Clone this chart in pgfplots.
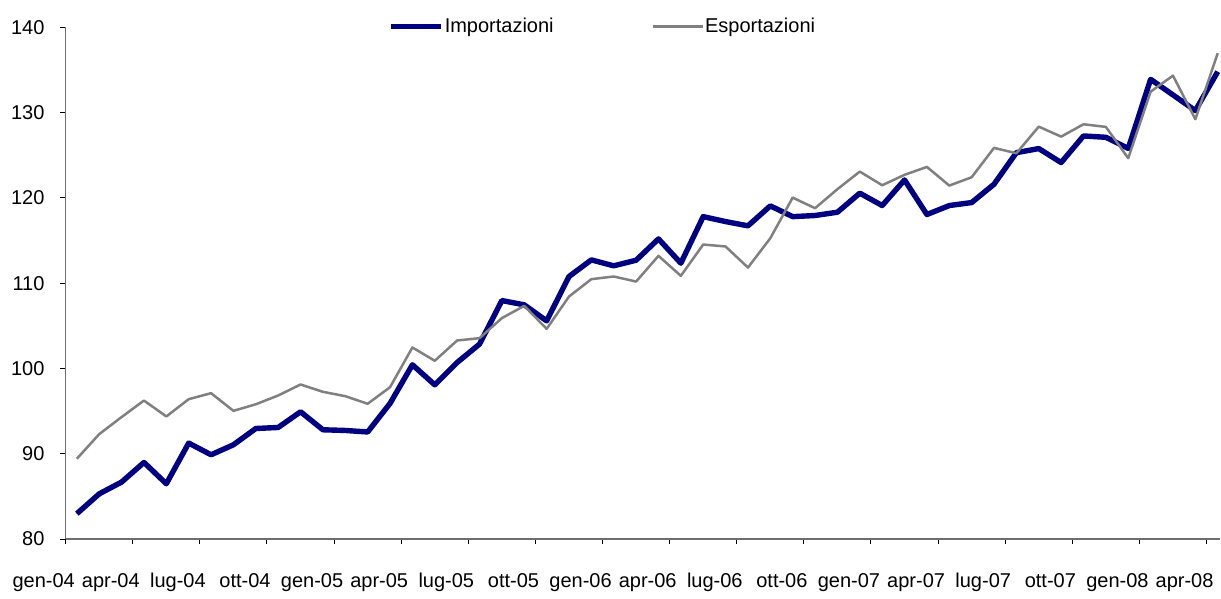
\documentclass[border=0pt]{standalone}
\usepackage{fontspec}
\setmainfont{Liberation Sans}
\usepackage{pgfplots}
\pgfplotsset{compat=1.18}
\usepackage{pgfplotstable}
\definecolor{impblue}{RGB}{0,0,128}
\definecolor{expgray}{RGB}{128,128,128}
\definecolor{axgray}{RGB}{110,110,110}

\pgfplotstableread{
x y
0 82.97
1 85.30
2 86.68
3 88.98
4 86.48
5 91.25
6 89.88
7 91.05
8 92.96
9 93.08
10 94.92
11 92.81
12 92.73
13 92.55
14 95.90
15 100.43
16 98.08
17 100.70
18 102.85
19 107.96
20 107.46
21 105.58
22 110.78
23 112.73
24 112.03
25 112.69
26 115.19
27 112.34
28 117.80
29 117.22
30 116.72
31 119.06
32 117.80
33 117.93
34 118.32
35 120.55
36 119.10
37 122.10
38 118.05
39 119.10
40 119.45
41 121.60
42 125.30
43 125.78
44 124.14
45 127.26
46 127.10
47 125.80
48 133.90
49 132.07
50 130.23
51 134.80
}\importazioni

\pgfplotstableread{
x y
0 89.41
1 92.30
2 94.30
3 96.24
4 94.37
5 96.40
6 97.10
7 95.03
8 95.80
9 96.83
10 98.12
11 97.26
12 96.75
13 95.86
14 97.80
15 102.46
16 100.90
17 103.28
18 103.55
19 105.90
20 107.34
21 104.64
22 108.43
23 110.47
24 110.78
25 110.19
26 113.20
27 110.86
28 114.53
29 114.30
30 111.83
31 115.27
32 120.03
33 118.79
34 121.02
35 123.08
36 121.48
37 122.70
38 123.63
39 121.44
40 122.42
41 125.86
42 125.23
43 128.35
44 127.18
45 128.63
46 128.32
47 124.65
48 132.45
49 134.33
50 129.22
51 136.96
}\esportazioni

\begin{document}
\begin{tikzpicture}
\begin{axis}[
  scale only axis,
  width=577.65pt, height=256pt,
  at={(0pt,0pt)}, anchor=south west,
  xmin=-0.5, xmax=51.12,
  ymin=80, ymax=140,
  axis lines*=left,
  axis line style={axgray, line width=0.6pt},
  tick style={black, line width=0.5pt},
  tick align=outside,
  major tick length=2.6pt,
  xtick={-0.5,2.5,...,50.5},
  xticklabels={gen-04,apr-04,lug-04,ott-04,gen-05,apr-05,lug-05,ott-05,gen-06,apr-06,lug-06,ott-06,gen-07,apr-07,lug-07,ott-07,gen-08,apr-08},
  ytick={80,90,...,140},
  /pgf/number format/assume math mode=true,
  tick label style={font=\fontsize{10}{12}\selectfont},
  xticklabel style={anchor=base, xshift=-11pt, yshift=-21.8pt},
  yticklabel style={anchor=east, xshift=-4.5pt},
  legend image code/.code={\draw[#1] (0pt,0pt) -- (25pt,0pt);},
  legend style={
    draw=none, fill=none, inner sep=0pt, outer sep=0pt,
    at={(rel axis cs:0.2795,1.002)}, anchor=west,
    font=\fontsize{10}{12}\selectfont,
    nodes={inner sep=0pt},
    /tikz/every odd column/.append style={column sep=0.5pt},
    /tikz/every even column/.append style={column sep=49pt},
  },
  legend columns=2,
  line join=round,
]
\addplot[impblue, line width=2.7pt, no markers] table[x=x,y=y] {\importazioni};
\addlegendentry{Importazioni}
\addplot[expgray, line width=1.25pt, no markers] table[x=x,y=y] {\esportazioni};
\addlegendentry{Esportazioni}
\end{axis}
\path[use as bounding box] (-32.85pt,-24.35pt) rectangle (577.65pt,269.65pt);
\end{tikzpicture}
\end{document}
